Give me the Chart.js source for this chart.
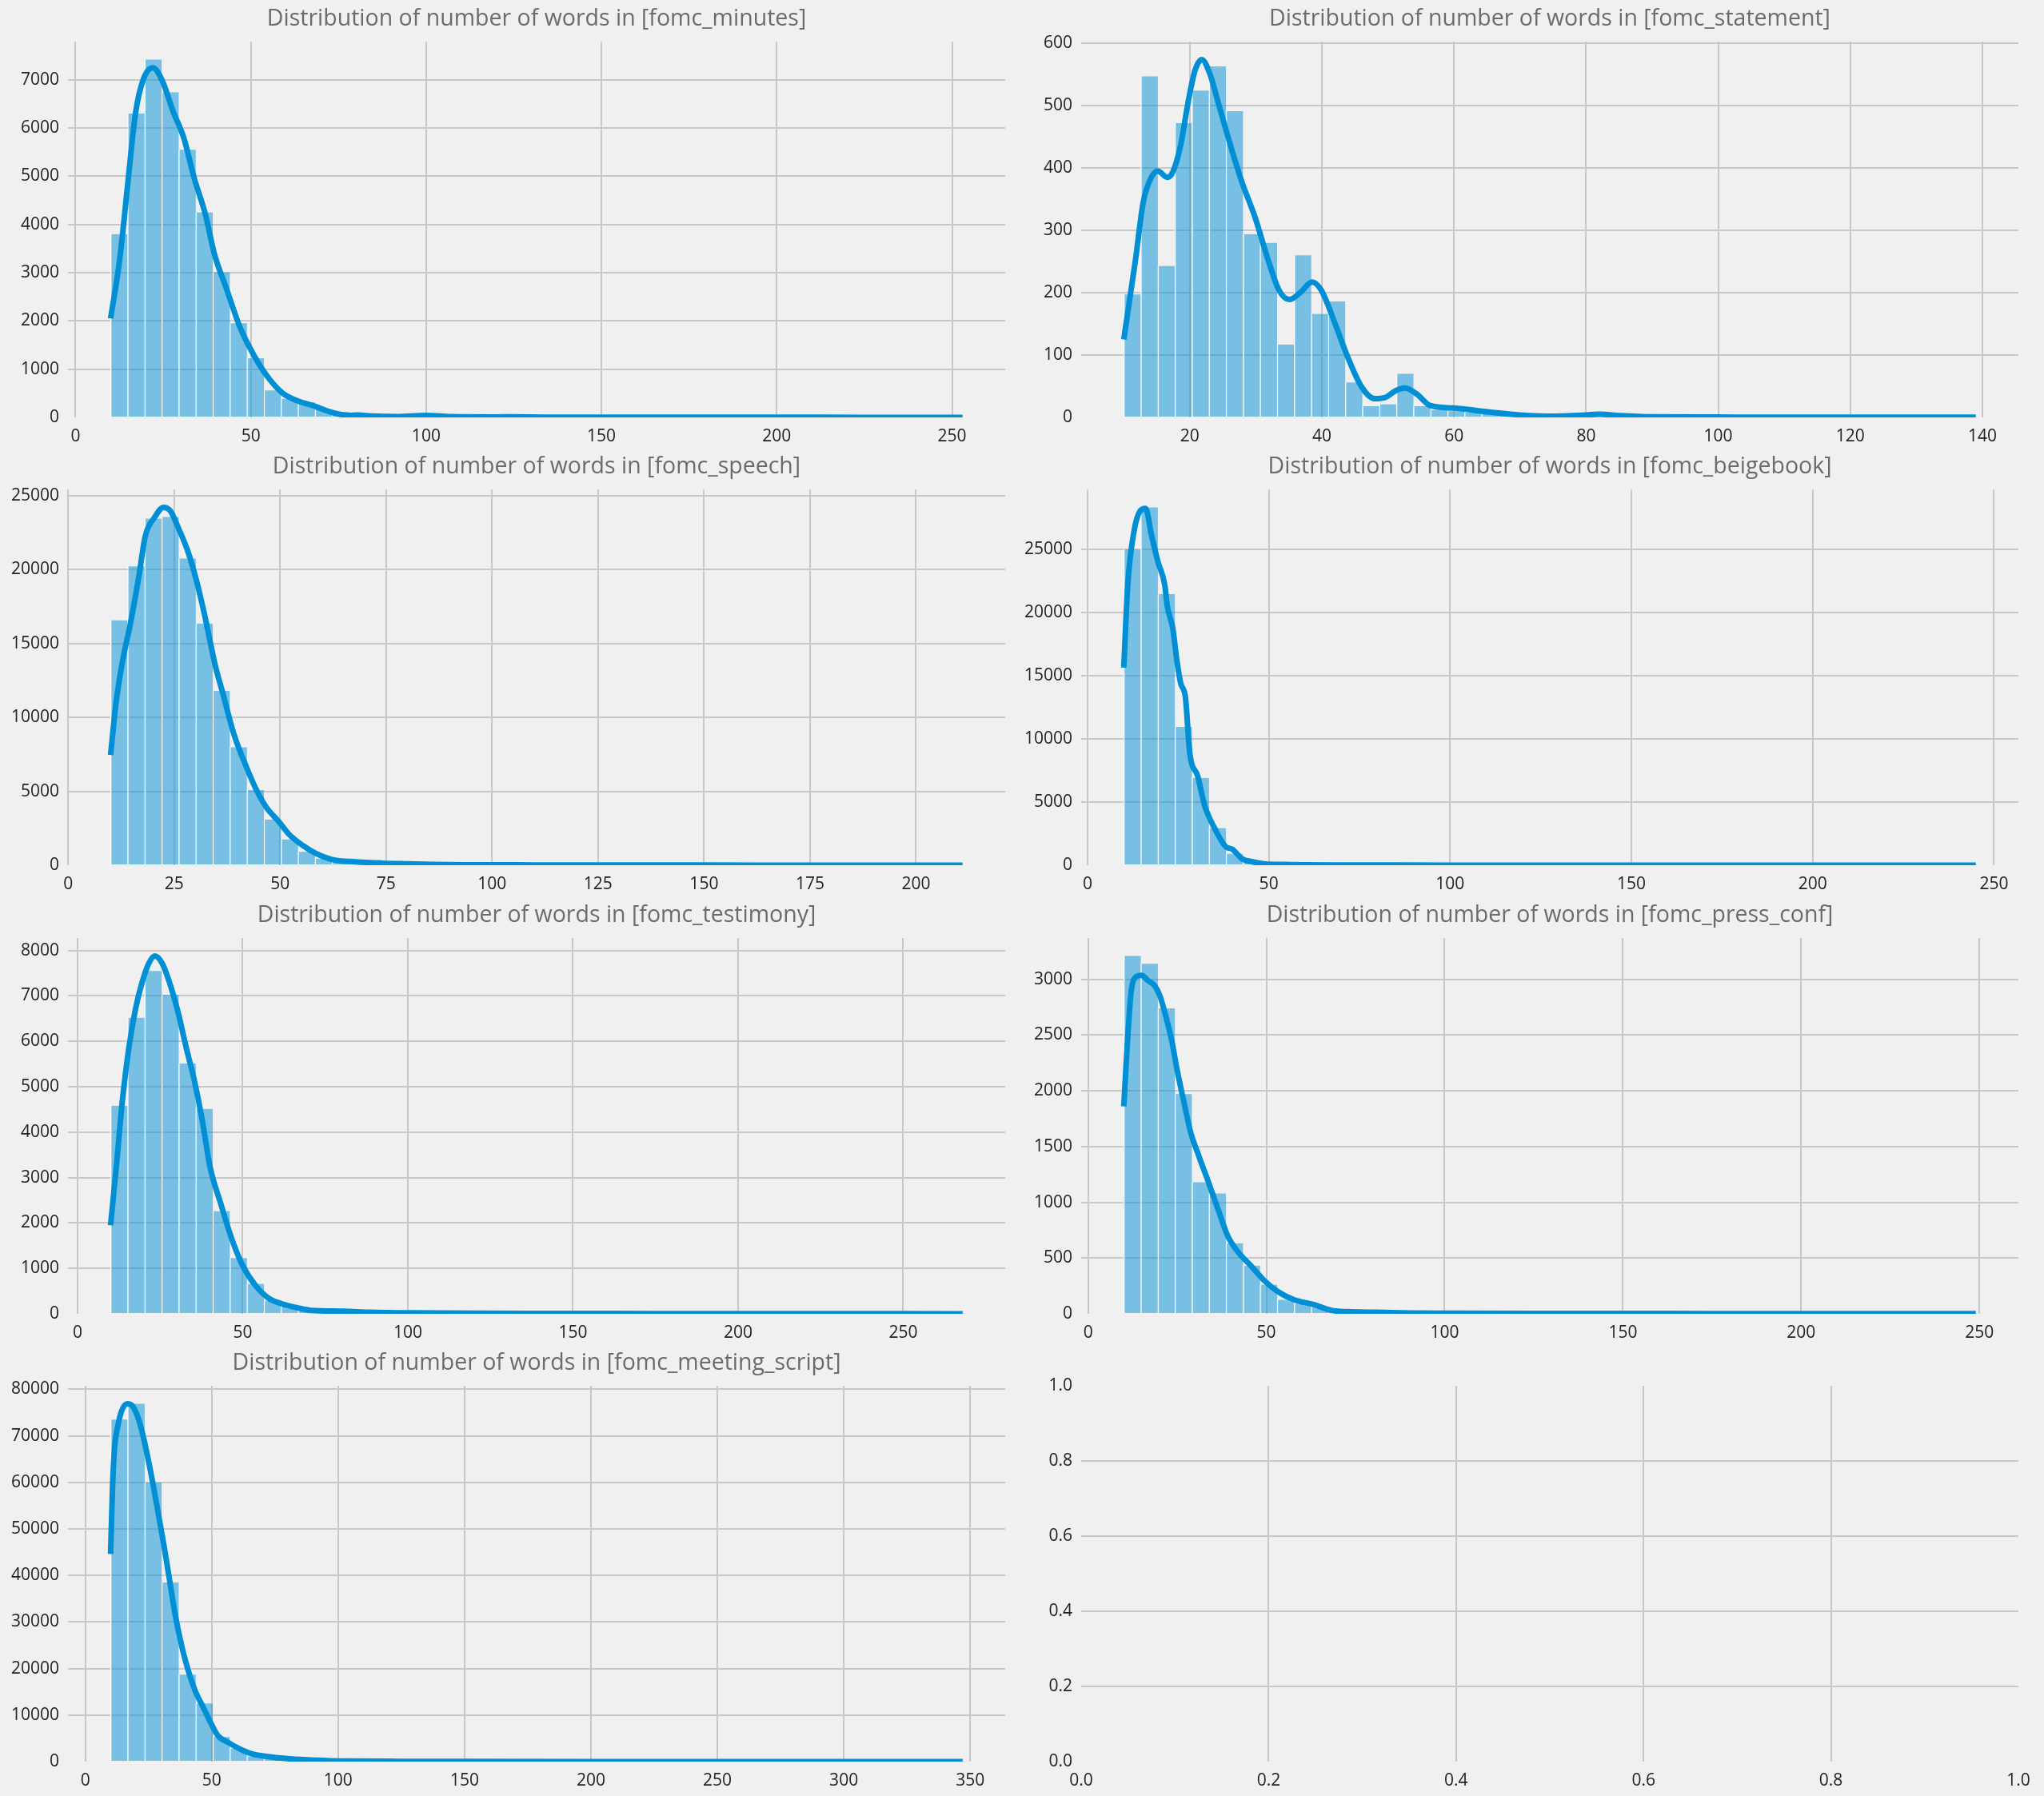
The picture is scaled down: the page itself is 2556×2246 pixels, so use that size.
<!DOCTYPE html>
<html>
<head>
<meta charset="utf-8">
<script src="https://cdn.jsdelivr.net/npm/chart.js@4.4.0/dist/chart.umd.min.js"></script>
<style>
  html, body { margin: 0; padding: 0; background: #f0f0f0; overflow: hidden; }
  #fig { position: relative; width: 2556px; height: 2246px; background: #f0f0f0; }
  #fig canvas { position: absolute; }
</style>
</head>
<body>
<div id="fig"></div>
<script>
// ---- data (counts per bin, 50 bins from lo to hi; kde curve) ----
const minutesRange = [10, 253];
const minutesCounts = [3800, 6300, 7420, 6740, 5550, 4250, 3010, 1950, 1225, 560, 390, 310, 170, 110, 70, 45, 35, 25, 20, 30, 15, 12, 10, 8, 6, 8, 5, 4, 3, 3, 2, 2, 3, 2, 1, 1, 2, 1, 1, 0, 1, 1, 0, 1, 0, 0, 1, 0, 0, 1];
const minutesKdeX = [10, 12.6, 14.9, 17.1, 19.4, 22.1, 24.8, 27.8, 30.9, 33.9, 37, 39.6, 43.1, 46.9, 50.7, 54.5, 59.1, 63.6, 67.5, 72.8, 78.1, 80.4, 84.2, 91.8, 100, 107, 120, 125, 135, 150, 175, 200, 225, 253];
const minutesKdeY = [2050, 3270, 4840, 6300, 7020, 7250, 6970, 6350, 5790, 4950, 4220, 3390, 2660, 1870, 1310, 870, 500, 335, 250, 110, 40, 50, 30, 17, 40, 15, 10, 14, 6, 5, 3, 5, 2, 2];

const statementRange = [10, 139];
const statementCounts = [197, 547, 243, 472, 524, 563, 491, 294, 280, 117, 260, 166, 186, 56, 18, 21, 70, 18, 12, 10, 8, 5, 3, 2, 1, 2, 0, 3, 2, 0, 1, 0, 0, 1, 0, 0, 0, 0, 0, 0, 0, 0, 0, 0, 0, 0, 0, 0, 0, 1];
const statementKdeX = [10, 11.75, 12.96, 14.17, 15.17, 16.58, 17.4, 18.6, 19.8, 20.8, 21.8, 23.0, 24.4, 25.8, 27.8, 29.9, 31.9, 33.5, 35.1, 36.7, 38.5, 39.9, 41.9, 43.9, 46, 48, 49.6, 51.2, 52.6, 54.4, 56.4, 60, 65, 70, 75, 80, 82, 85, 90, 100, 110, 120, 130, 139];
const statementKdeY = [125, 251, 346, 385, 395, 385, 393, 436, 509, 557, 574, 552, 501, 449, 380, 320, 251, 204, 189, 200, 217, 204, 153, 97, 49, 30, 32, 43, 47, 37, 19, 15, 9, 4, 2, 4, 5, 3, 1, 0.5, 0.3, 0.3, 0.2, 0.2];

const speechRange = [10, 211];
const speechCounts = [16560, 20210, 23430, 23550, 20740, 16340, 11780, 7980, 5080, 3090, 1750, 910, 450, 230, 140, 90, 60, 40, 30, 20, 15, 10, 8, 6, 5, 4, 3, 3, 2, 2, 1, 1, 1, 1, 0, 1, 0, 1, 0, 0, 1, 0, 0, 0, 1, 0, 0, 0, 0, 1];
const speechKdeX = [10, 11.3, 12.86, 14.7, 16.6, 18.2, 20.35, 22.5, 24.1, 26, 28.5, 30.3, 32.2, 34.7, 36.6, 39.1, 42.2, 44.7, 46.9, 49.7, 52.2, 55.3, 58.4, 62.2, 67.8, 74, 80.3, 85.9, 95, 110, 130, 150, 175, 200, 211];
const speechKdeY = [7460, 11000, 13860, 16360, 19400, 22260, 23500, 24200, 23960, 22800, 21000, 19200, 16900, 13500, 11500, 8850, 6530, 4920, 3850, 2950, 2060, 1340, 800, 390, 230, 140, 90, 50, 30, 20, 12, 8, 5, 3, 2];

const beigebookRange = [10, 245];
const beigebookCounts = [25000, 28340, 21470, 10950, 6910, 2940, 920, 270, 80, 35, 20, 12, 8, 5, 4, 3, 2, 2, 1, 1, 1, 1, 0, 1, 0, 0, 1, 0, 0, 0, 0, 1, 0, 0, 0, 0, 0, 0, 0, 0, 0, 0, 0, 0, 0, 0, 0, 0, 0, 1];
const beigebookKdeX = [10, 11.1, 12.8, 14.5, 16, 17.6, 19.4, 21.3, 22, 23.5, 24.6, 25.7, 27, 28.2, 30.4, 32.3, 35.2, 38.1, 40, 42.5, 45.5, 49.1, 54.3, 60, 70, 80, 100, 125, 150, 175, 200, 225, 245];
const beigebookKdeY = [15650, 22200, 26400, 28050, 28260, 26200, 24050, 22200, 20500, 18800, 16300, 14400, 13300, 8900, 7040, 4730, 2840, 1470, 1260, 530, 270, 100, 60, 30, 15, 10, 5, 3, 2, 2, 1, 1, 1];

const testimonyRange = [10, 268];
const testimonyCounts = [4580, 6520, 7550, 7020, 5510, 4510, 2260, 1230, 660, 290, 160, 90, 60, 40, 30, 22, 18, 12, 10, 8, 6, 5, 4, 3, 3, 2, 2, 2, 1, 2, 1, 1, 1, 1, 0, 1, 0, 1, 0, 0, 1, 0, 0, 0, 0, 0, 1, 0, 0, 1];
const testimonyKdeX = [10, 11.9, 13.5, 15.55, 17.6, 19.6, 21.6, 23.4, 25.6, 28, 30.5, 32.9, 35.3, 37.7, 40.1, 43.35, 46.6, 49.8, 53.8, 57.9, 61.9, 66.7, 70.7, 80.4, 88.5, 100, 120, 150, 175, 200, 230, 268];
const testimonyKdeY = [1950, 3360, 4640, 5860, 6730, 7310, 7720, 7880, 7720, 7260, 6620, 5860, 5160, 4290, 3240, 2430, 1670, 1090, 630, 340, 220, 130, 76, 58, 35, 20, 12, 10, 5, 4, 3, 2];

const pressConfRange = [10, 249];
const pressConfCounts = [3210, 3140, 2740, 1970, 1180, 1080, 632, 432, 261, 126, 90, 62, 38, 24, 15, 12, 9, 7, 5, 4, 3, 3, 2, 2, 1, 1, 1, 1, 1, 0, 1, 1, 0, 0, 1, 0, 0, 0, 1, 0, 0, 0, 0, 1, 0, 0, 0, 0, 0, 1];
const pressConfKdeX = [10, 10.9, 12, 13.5, 15, 16.8, 18.7, 20.2, 21.7, 23.5, 25, 26.9, 28.7, 31, 34, 36.6, 39.2, 42.1, 45.9, 49.6, 53.3, 57.8, 63, 68.2, 72.7, 80.9, 90.5, 100, 125, 150, 175, 200, 225, 249];
const pressConfKdeY = [1860, 2370, 2870, 3024, 3036, 2988, 2941, 2846, 2679, 2442, 2180, 1895, 1634, 1420, 1159, 922, 696, 553, 423, 292, 197, 126, 86, 31, 19, 14, 7, 5, 3, 4, 2, 2, 1, 1];

const scriptRange = [10, 347];
const scriptCounts = [73500, 76900, 60000, 38500, 18700, 12500, 5300, 2800, 1100, 590, 300, 200, 150, 100, 80, 60, 45, 35, 25, 20, 15, 12, 10, 8, 6, 5, 4, 3, 3, 2, 2, 2, 1, 1, 1, 1, 1, 0, 1, 0, 0, 1, 0, 0, 0, 1, 0, 0, 0, 1];
const scriptKdeX = [10, 10.8, 11.6, 12.9, 14.5, 16.6, 18.7, 20.8, 22.9, 25, 27.1, 29.2, 31.3, 33.4, 35.5, 38.2, 40.8, 43.4, 46.6, 49.2, 52.4, 56.6, 60.8, 66, 72.3, 80.8, 91.3, 101.8, 125, 150, 200, 250, 300, 347];
const scriptKdeY = [44600, 59300, 67500, 72200, 75500, 76900, 76400, 74000, 69900, 64600, 58700, 52300, 45800, 38800, 31700, 24700, 19400, 15300, 11700, 8800, 5600, 4100, 2800, 1640, 1060, 590, 290, 120, 60, 40, 20, 15, 10, 8];

// tick labels
const ticks50_250 = [0, 50, 100, 150, 200, 250];
const statementXTicks = [0, 20, 40, 60, 80, 100, 120, 140];
const speechXTicks = [0, 25, 50, 75, 100, 125, 150, 175, 200];
const scriptXTicks = [0, 50, 100, 150, 200, 250, 300, 350];
const minutesYTicks = [0, 1000, 2000, 3000, 4000, 5000, 6000, 7000];
const statementYTicks = [0, 100, 200, 300, 400, 500, 600];
const ticks0_25000 = [0, 5000, 10000, 15000, 20000, 25000];
const testimonyYTicks = [0, 1000, 2000, 3000, 4000, 5000, 6000, 7000, 8000];
const pressConfYTicks = [0, 500, 1000, 1500, 2000, 2500, 3000];
const scriptYTicks = [0, 10000, 20000, 30000, 40000, 50000, 60000, 70000, 80000];
const unitTicks = [0, 0.2, 0.4, 0.6, 0.8, 1.0];

const panels = [
  { name: "fomc_minutes", range: minutesRange, counts: minutesCounts, kx: minutesKdeX, ky: minutesKdeY, xt: ticks50_250, yt: minutesYTicks },
  { name: "fomc_statement", range: statementRange, counts: statementCounts, kx: statementKdeX, ky: statementKdeY, xt: statementXTicks, yt: statementYTicks },
  { name: "fomc_speech", range: speechRange, counts: speechCounts, kx: speechKdeX, ky: speechKdeY, xt: speechXTicks, yt: ticks0_25000 },
  { name: "fomc_beigebook", range: beigebookRange, counts: beigebookCounts, kx: beigebookKdeX, ky: beigebookKdeY, xt: ticks50_250, yt: ticks0_25000 },
  { name: "fomc_testimony", range: testimonyRange, counts: testimonyCounts, kx: testimonyKdeX, ky: testimonyKdeY, xt: ticks50_250, yt: testimonyYTicks },
  { name: "fomc_press_conf", range: pressConfRange, counts: pressConfCounts, kx: pressConfKdeX, ky: pressConfKdeY, xt: ticks50_250, yt: pressConfYTicks },
  { name: "fomc_meeting_script", range: scriptRange, counts: scriptCounts, kx: scriptKdeX, ky: scriptKdeY, xt: scriptXTicks, yt: scriptYTicks },
  null
];

// ---- layout ----
const FONT = '"Open Sans", "Noto Sans", sans-serif';
const COL_LEFT = [85, 1352];
const AX_W = 1172, AX_H = 470;
const ROW_TOP = [52, 612, 1173, 1733];
const PAD_L = 85, PAD_T = 52, PAD_B = 45, PAD_R = 30;
const GRID = "#c8c8c8";
const BLUE = "#008fd5";

Chart.defaults.font.family = FONT;
Chart.defaults.animation = false;

const fig = document.getElementById("fig");

panels.forEach((p, idx) => {
  const col = idx % 2, row = Math.floor(idx / 2);
  const cv = document.createElement("canvas");
  const w = PAD_L + AX_W + PAD_R, h = PAD_T + AX_H + PAD_B;
  cv.width = w; cv.height = h;
  cv.style.width = w + "px"; cv.style.height = h + "px";
  cv.style.left = (COL_LEFT[col] - PAD_L) + "px";
  cv.style.top = (ROW_TOP[row] - PAD_T) + "px";
  fig.appendChild(cv);

  let xmin, xmax, ymax, xt, yt, datasets, fmt;
  if (p) {
    const lo = p.range[0], hi = p.range[1];
    const bw = (hi - lo) / p.counts.length;
    xmin = lo - 0.05 * (hi - lo);
    xmax = hi + 0.05 * (hi - lo);
    ymax = Math.max(...p.counts, ...p.ky) * 1.05;
    xt = p.xt; yt = p.yt;
    fmt = v => String(v);
    datasets = [
      {
        type: "line",
        data: p.kx.map((x, i) => ({ x: x, y: p.ky[i] })),
        borderColor: BLUE,
        borderWidth: 7,
        pointRadius: 0,
        cubicInterpolationMode: "monotone",
        fill: false,
        order: 0
      },
      {
        type: "bar",
        data: p.counts.map((c, i) => ({ x: lo + (i + 0.5) * bw, y: c })),
        backgroundColor: "rgba(0, 143, 213, 0.5)",
        borderColor: "#ffffff",
        borderWidth: { left: 1.3, right: 0, top: 0, bottom: 0 },
        borderSkipped: false,
        barPercentage: 1,
        categoryPercentage: 1,
        order: 1
      }
    ];
  } else {
    xmin = 0; xmax = 1; ymax = 1;
    xt = unitTicks; yt = unitTicks;
    fmt = v => v.toFixed(1);
    datasets = [];
  }

  const gridColor = (lo, hi) => ctx => {
    const v = ctx.tick ? ctx.tick.value : null;
    return (v === null || Math.abs(v - lo) < 1e-9 || Math.abs(v - hi) < 1e-9) ? "rgba(0,0,0,0)" : GRID;
  };

  new Chart(cv, {
    type: "bar",
    data: { datasets: datasets },
    options: {
      responsive: false,
      devicePixelRatio: 1,
      layout: { padding: { top: p ? 0 : PAD_T, right: PAD_R, bottom: 0, left: 0 } },
      plugins: {
        legend: { display: false },
        tooltip: { enabled: false },
        title: {
          display: !!p,
          text: p ? "Distribution of number of words in [" + p.name + "]" : "",
          color: "#6b6b6b",
          font: { size: 28.5, weight: "normal", family: FONT, lineHeight: 1.2 },
          padding: { top: 7, bottom: 10.8 },
          fullSize: false
        }
      },
      scales: {
        x: {
          type: "linear",
          min: xmin,
          max: xmax,
          offset: false,
          border: { display: false },
          grid: { offset: false, drawTicks: false, color: gridColor(xmin, xmax), lineWidth: 2 },
          ticks: { color: "#222", font: { size: 21 }, padding: 11, maxRotation: 0, autoSkip: false, callback: fmt },
          afterBuildTicks: axis => {
            axis.ticks = xt.filter(v => v >= xmin - 1e-9 && v <= xmax + 1e-9).map(v => ({ value: v }));
          },
          afterFit: axis => { axis.height = PAD_B; }
        },
        y: {
          type: "linear",
          min: 0,
          max: ymax,
          border: { display: false },
          grid: { drawTicks: false, color: gridColor(0, ymax), lineWidth: 2 },
          ticks: { color: "#222", font: { size: 21 }, padding: 11, autoSkip: false, callback: fmt },
          afterBuildTicks: axis => {
            axis.ticks = yt.filter(v => v <= ymax + 1e-9).map(v => ({ value: v }));
          },
          afterFit: axis => { axis.width = PAD_L; }
        }
      }
    }
  });
});
</script>
</body>
</html>
